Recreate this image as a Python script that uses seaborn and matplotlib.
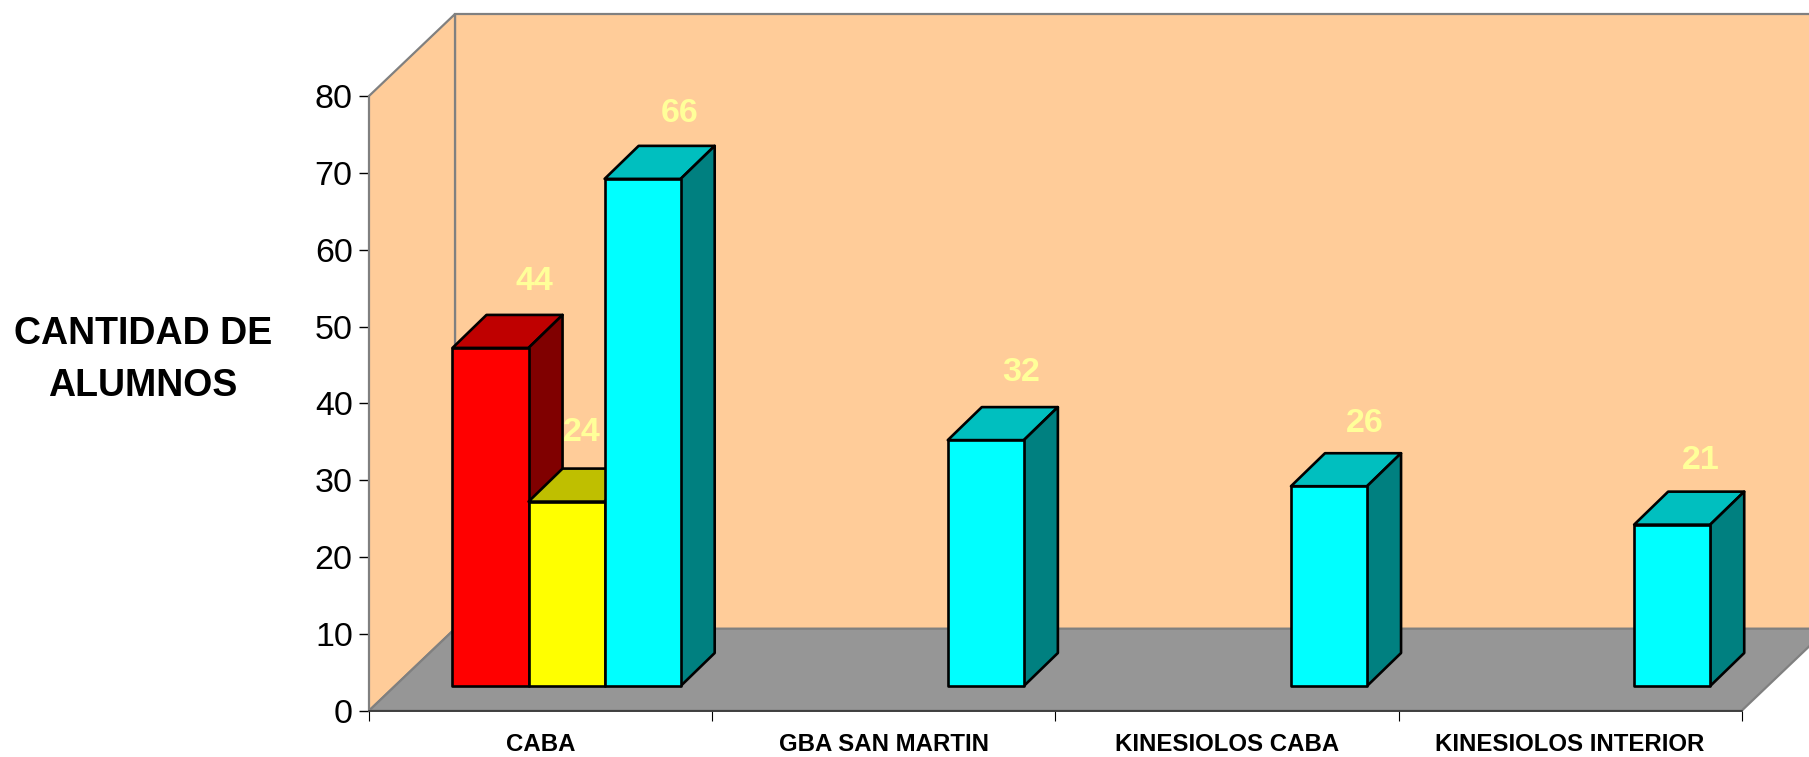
import matplotlib

matplotlib.use("Agg")
import matplotlib.pyplot as plt
import pandas as pd
import seaborn as sns
from matplotlib.patches import Polygon

categories = ["CABA", "CABA", "CABA", "GBA SAN MARTIN", "KINESIOLOS CABA", "KINESIOLOS INTERIOR"]
series = ["A", "B", "C", "C", "C", "C"]
values = [44, 24, 66, 32, 26, 21]
category_order = ["CABA", "GBA SAN MARTIN", "KINESIOLOS CABA", "KINESIOLOS INTERIOR"]
y_ticks = [0, 10, 20, 30, 40, 50, 60, 70, 80]

front_colors = {"A": "#FF0000", "B": "#FFFF00", "C": "#00FFFF"}
top_colors = {"A": "#BF0000", "B": "#BFBF00", "C": "#00BFBF"}
side_colors = {"A": "#800000", "B": "#808000", "C": "#008080"}

# nudges of the value labels, in pixels from the front top corner of each bar centre
label_dx = {44: 44, 24: 15, 66: 37, 32: 35, 26: 36, 21: 29}
label_dy = {44: 66, 24: 69, 66: 65, 32: 68, 26: 63, 21: 64}

sns.set_style("white")
plt.rcParams["font.family"] = ["Liberation Sans", "DejaVu Sans"]

df = pd.DataFrame({"categoria": categories, "serie": series, "alumnos": values})

fig = plt.figure(figsize=(18.09, 7.57), dpi=100)
W, H = 1809, 757
x0, x1, y_top, y_bot = 369, 1741.7, 96, 710.7
ax = fig.add_axes([x0 / W, 1 - y_bot / H, (x1 - x0) / W, (y_bot - y_top) / H])

sns.barplot(
    data=df,
    x="categoria",
    y="alumnos",
    hue="serie",
    order=category_order,
    hue_order=["A", "B", "C"],
    palette=front_colors,
    saturation=1,
    width=0.665,
    gap=0,
    errorbar=None,
    edgecolor="black",
    linewidth=1.9,
    legend=False,
    ax=ax,
)
ax.set_xlim(-0.5, 3.5)
ax.set_ylim(0, 80)
ax.patch.set_visible(False)

# pixels to data units
px_x = 4 / (x1 - x0)
px_y = 80 / (y_bot - y_top)
wall_dx, wall_dy = 86 * px_x, 82 * px_y
shift_x, shift_y = 26 * px_x, 24.7 * px_y
depth_x, depth_y = 34 * px_x, 33 * px_y

xa, xb = -0.5, 3.5
wall_kw = dict(clip_on=False, edgecolor="#808080", linewidth=1.6)
ax.add_patch(Polygon(
    [(xa + wall_dx, wall_dy), (xb + wall_dx, wall_dy), (xb + wall_dx, 80 + wall_dy), (xa + wall_dx, 80 + wall_dy)],
    facecolor="#FFCC99", zorder=0.5, **wall_kw))
ax.add_patch(Polygon(
    [(xa, 0), (xa + wall_dx, wall_dy), (xa + wall_dx, 80 + wall_dy), (xa, 80)],
    facecolor="#FFCC99", zorder=0.6, **wall_kw))
ax.add_patch(Polygon(
    [(xa, 0), (xb, 0), (xb + wall_dx, wall_dy), (xa + wall_dx, wall_dy)],
    facecolor="#969696", zorder=0.7, **wall_kw))

# turn the flat bars into boxes
z = 2.0
for container, name in zip(ax.containers, ["A", "B", "C"]):
    for bar in container:
        h = bar.get_height()
        if not h == h:
            continue
        bar.set_x(bar.get_x() + shift_x)
        bar.set_y(shift_y)
        bar.set_clip_on(False)
        bar.set_joinstyle("round")
        left, right = bar.get_x(), bar.get_x() + bar.get_width()
        bottom, top = shift_y, shift_y + h
        box_kw = dict(clip_on=False, edgecolor="black", linewidth=1.9, joinstyle="round")
        ax.add_patch(Polygon(
            [(left, top), (right, top), (right + depth_x, top + depth_y), (left + depth_x, top + depth_y)],
            facecolor=top_colors[name], zorder=z, **box_kw))
        ax.add_patch(Polygon(
            [(right, bottom), (right + depth_x, bottom + depth_y), (right + depth_x, top + depth_y), (right, top)],
            facecolor=side_colors[name], zorder=z + 0.1, **box_kw))
        bar.set_zorder(z + 0.2)
        ax.annotate(
            str(int(h)),
            (left + bar.get_width() / 2, top),
            xytext=(label_dx[int(h)] * 0.72, label_dy[int(h)] * 0.72),
            textcoords="offset points",
            ha="center",
            va="center",
            color="#FFFF99",
            fontweight="bold",
            fontsize=24.5,
            zorder=10,
            annotation_clip=False,
        )
        z += 1

ax.set_yticks(y_ticks)
ax.set_xticks([-0.5, 0.5, 1.5, 2.5, 3.5], labels=[])
ax.set_xticks([0, 1, 2, 3], labels=category_order, minor=True)
ax.tick_params(axis="y", which="major", left=True, length=7.2, width=1, color="black", labelsize=24.5, labelcolor="black", pad=4.5)
ax.tick_params(axis="x", which="major", bottom=True, length=7.2, width=0.8, color="black")
ax.tick_params(axis="x", which="minor", bottom=False, length=0, pad=16.3)
for lab in ax.get_xticklabels(minor=True):
    lab.set_fontsize(17.3)
    lab.set_fontweight("bold")
    lab.set_color("black")

ax.set_xlabel("")
ax.set_ylabel("CANTIDAD DE\nALUMNOS", rotation=0, ha="center", va="center", fontsize=27,
              fontweight="bold", color="black", linespacing=1.58)
ax.yaxis.set_label_coords((143 - x0) / (x1 - x0), (y_bot - 360) / (y_bot - y_top))

sns.despine(ax=ax, top=True, right=True)
ax.spines["left"].set_color("#808080")
ax.spines["left"].set_linewidth(1.2)
ax.spines["bottom"].set_color("#333333")
ax.spines["bottom"].set_linewidth(1.2)
ax.spines["left"].set_zorder(1)
ax.spines["bottom"].set_zorder(1)

plt.savefig("out.png", dpi=100)
